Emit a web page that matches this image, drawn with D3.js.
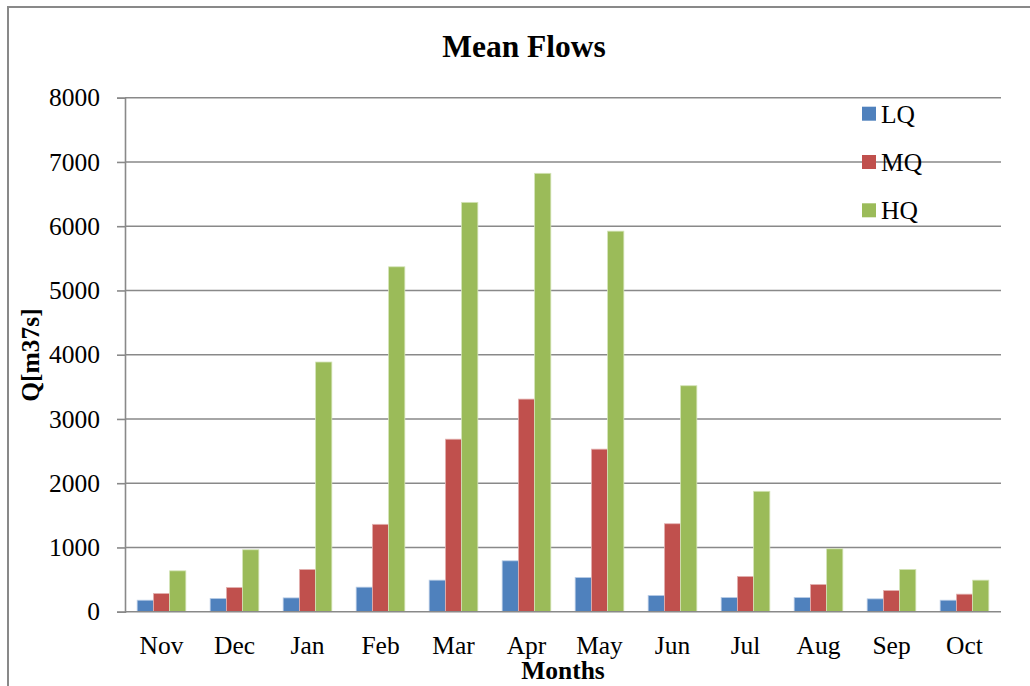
<!DOCTYPE html>
<html>
<head>
<meta charset="utf-8">
<script src="https://cdn.jsdelivr.net/npm/d3@7"></script>
<style>
  html, body { margin: 0; padding: 0; background: #fff; }
  svg { display: block; }
  text { font-family: "Liberation Serif", "Times New Roman", serif; fill: #000; }
</style>
</head>
<body>
<svg id="chart" width="1030" height="686"></svg>
<script>
// Monthly mean discharges (m³/s) for low, mean and high flow
const months = ["Nov", "Dec", "Jan", "Feb", "Mar", "Apr", "May", "Jun", "Jul", "Aug", "Sep", "Oct"];
const seriesNames = ["LQ", "MQ", "HQ"];
const lqValues = [179, 206, 215, 382, 491, 792, 533, 253, 221, 221, 200, 179];
const mqValues = [284, 377, 658, 1360, 2685, 3309, 2530, 1369, 549, 424, 330, 273];
const hqValues = [636, 964, 3886, 5368, 6371, 6823, 5923, 3517, 1874, 979, 658, 491];
const yTicks = [0, 1000, 2000, 3000, 4000, 5000, 6000, 7000, 8000];

const seriesValues = { LQ: lqValues, MQ: mqValues, HQ: hqValues };
const colors = { LQ: "#4F81BD", MQ: "#C0504D", HQ: "#9BBB59" };
const edges = { LQ: "#b9cde6", MQ: "#e3b3b2", HQ: "#d3e3b6" };

const svg = d3.select("#chart");
const plot = { left: 125, right: 1001, top: 97.7, bottom: 611.7 };
const gridColor = "#898989";

// outer chart frame
svg.append("rect")
  .attr("x", 8).attr("y", 7)
  .attr("width", 1060).attr("height", 720)
  .attr("fill", "none")
  .attr("stroke", gridColor)
  .attr("stroke-width", 2);

const x0 = d3.scaleBand()
  .domain(months)
  .range([plot.left, plot.right])
  .paddingInner(1 / 3)
  .paddingOuter(1 / 6);

const x1 = d3.scaleBand()
  .domain(seriesNames)
  .range([0, x0.bandwidth()]);

const y = d3.scaleLinear()
  .domain([0, 8000])
  .range([plot.bottom, plot.top]);

// horizontal gridlines
svg.append("g")
  .selectAll("line")
  .data(yTicks.filter(t => t > 0))
  .join("line")
  .attr("x1", plot.left).attr("x2", plot.right)
  .attr("y1", d => y(d)).attr("y2", d => y(d))
  .attr("stroke", gridColor)
  .attr("stroke-width", 1.6);

// y axis with outward ticks
const yAxis = svg.append("g")
  .attr("transform", `translate(${plot.left},0)`)
  .call(d3.axisLeft(y).tickValues(yTicks).tickSize(8).tickPadding(17).tickFormat(d3.format("d")));
yAxis.attr("font-family", null);
yAxis.select(".domain").attr("stroke", gridColor).attr("stroke-width", 1.6);
yAxis.selectAll(".tick line").attr("stroke", gridColor).attr("stroke-width", 1.6);
yAxis.selectAll(".tick text")
  .attr("font-size", 25.5)
  .attr("fill", "#000");

// grouped bars
const groups = svg.append("g")
  .selectAll("g")
  .data(months)
  .join("g")
  .attr("transform", d => `translate(${x0(d)},0)`);

groups.selectAll("rect")
  .data((m, i) => seriesNames.map(s => ({ key: s, value: seriesValues[s][i] })))
  .join("rect")
  .attr("x", d => x1(d.key))
  .attr("y", d => y(d.value))
  .attr("width", x1.bandwidth())
  .attr("height", d => y(0) - y(d.value))
  .attr("fill", d => colors[d.key])
  .attr("stroke", d => edges[d.key])
  .attr("stroke-width", 0.8);

// x axis (baseline and category labels)
const xAxis = svg.append("g")
  .attr("transform", `translate(0,${plot.bottom})`)
  .call(d3.axisBottom(x0).tickSize(0).tickPadding(24));
xAxis.attr("font-family", null);
xAxis.select(".domain").attr("stroke", gridColor).attr("stroke-width", 1.6)
  .attr("d", `M${plot.left},0H${plot.right}`);
xAxis.selectAll(".tick text")
  .attr("font-size", 25.5)
  .attr("fill", "#000");

// titles
svg.append("text")
  .attr("x", 524).attr("y", 57)
  .attr("text-anchor", "middle")
  .attr("font-weight", "bold")
  .attr("font-size", 31.5)
  .text("Mean Flows");

svg.append("text")
  .attr("x", (plot.left + plot.right) / 2).attr("y", 679)
  .attr("text-anchor", "middle")
  .attr("font-weight", "bold")
  .attr("font-size", 25.5)
  .text("Months");

svg.append("text")
  .attr("transform", "translate(39,355) rotate(-90)")
  .attr("text-anchor", "middle")
  .attr("font-weight", "bold")
  .attr("font-size", 25.5)
  .text("Q[m37s]");

// legend
const legend = svg.append("g")
  .selectAll("g")
  .data(seriesNames)
  .join("g")
  .attr("transform", (d, i) => `translate(862,${106.7 + i * 48.3})`);
legend.append("rect")
  .attr("width", 14).attr("height", 14)
  .attr("fill", d => colors[d]);
legend.append("text")
  .attr("x", 19).attr("y", 16)
  .attr("font-size", 25.5)
  .text(d => d);
</script>
</body>
</html>
